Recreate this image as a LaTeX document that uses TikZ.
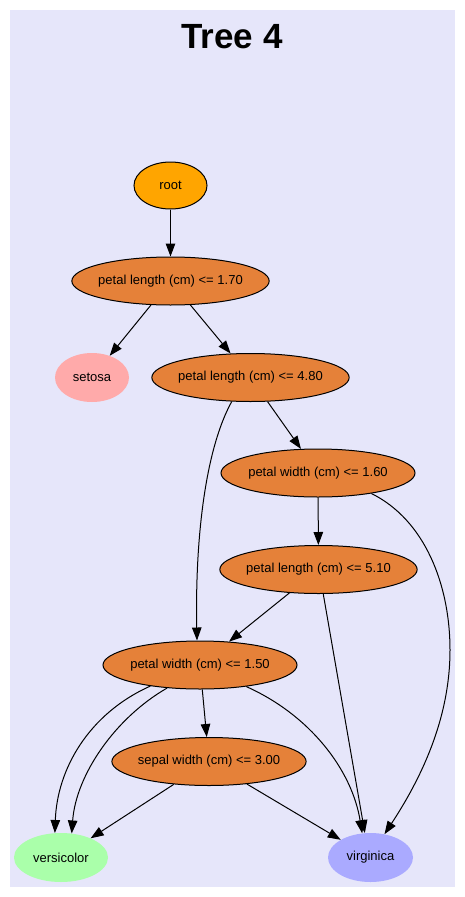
\documentclass[tikz,border=0pt]{standalone}
\usepackage{fontspec}
\setmainfont{Liberation Sans}
\usetikzlibrary{arrows.meta,shapes.geometric}
\definecolor{bgcol}{RGB}{230,230,250}
\definecolor{rootcol}{RGB}{255,165,0}
\definecolor{condcol}{RGB}{229,129,57}
\definecolor{setcol}{RGB}{255,170,170}
\definecolor{vccol}{RGB}{170,255,170}
\definecolor{vircol}{RGB}{170,170,255}
\tikzset{
	cond/.style={ellipse, draw, line width=1pt, fill=condcol, inner xsep=-2.5pt, inner ysep=0pt,
		minimum width=194pt, minimum height=48pt, font=\fontsize{13}{15}\selectfont},
	leaf/.style={ellipse, inner sep=0pt, minimum height=49pt, font=\fontsize{13}{15}\selectfont},
	link/.style={line width=1pt, -{Triangle[length=13pt,width=9.5pt]}}
}

\begin{document}
\begin{tikzpicture}[x=1pt,y=-1pt]
			%%%%% START %%%%%
			\useasboundingbox (0,0) rectangle (464,897);
			\fill[bgcol] (10,10) rectangle (455,887);
			
			\node[font=\fontsize{35}{40}\selectfont\bfseries, anchor=base] (title) at (232,48) {Tree 4};
			
			\node[ellipse, draw, line width=1pt, fill=rootcol, inner sep=0pt, minimum width=73pt,
				minimum height=47pt, font=\fontsize{13}{15}\selectfont] (root) at (170.5,185.5) {root};
			
			\node[cond] (pl170) at (170.5,281) {petal length (cm) <= 1.70};
			\node[cond] (pl480) at (250.5,377.5) {petal length (cm) <= 4.80};
			\node[cond] (pw160) at (318,473) {petal width (cm) <= 1.60};
			\node[cond] (pl510) at (318.5,569.5) {petal length (cm) <= 5.10};
			\node[cond] (pw150) at (200,665) {petal width (cm) <= 1.50};
			\node[cond] (sw300) at (209,761.5) {sepal width (cm) <= 3.00};
			
			\node[leaf, fill=setcol, minimum width=74pt] (set) at (92,377.5) {setosa};
			\node[leaf, fill=vccol, minimum width=94pt] (vc) at (61,857.5) {versicolor};
			\node[leaf, fill=vircol, minimum width=85pt] (vir) at (370.5,857.5) {virginica};
			
			% edges
			\draw[link] (root) -- (pl170);
			\draw[link] (pl170) -- (set);
			\draw[link] (pl170) -- (pl480);
			\draw[link] (pl480.232) .. controls (205,450) and (195,540) .. (pw150.97);
			\draw[link] (pl480) -- (pw160);
			\draw[link] (pw160) -- (pl510);
			\draw[link] (pw160.339) .. controls (425,520) and (450,585) .. (450,650)
				.. controls (450,720) and (420,780) .. (vir.59);
			\draw[link] (pl510) -- (pw150);
			\draw[link] (pl510.281) -- (vir.103);
			\draw[link] (pw150.203) .. controls (88,714) and (57,770) .. (vc.104);
			\draw[link] (pw150.215) .. controls (115,718) and (76,775) .. (vc.66);
			\draw[link] (pw150) -- (sw300);
			\draw[link] (pw150.335) .. controls (310,715) and (352,770) .. (vir.109);
			\draw[link] (sw300) -- (vc);
			\draw[link] (sw300) -- (vir);
			%%%%% END %%%%%
\end{tikzpicture}
\end{document}
